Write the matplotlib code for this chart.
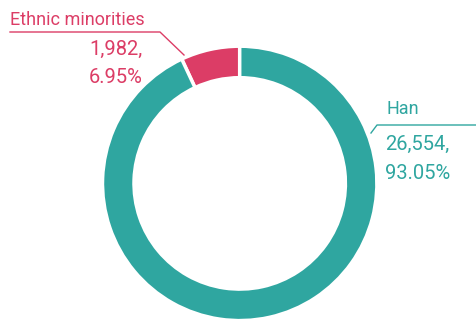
import matplotlib
matplotlib.use("Agg")
import matplotlib.pyplot as plt

categories = ["Ethnic minorities", "Han"]
values = [1982, 26554]
percents = ["6.95%", "93.05%"]
colors = ["#dc3d66", "#2fa6a0"]

W, H = 476, 322
fig = plt.figure(figsize=(W / 100, H / 100), dpi=100)
ax = fig.add_axes([0, 0, 1, 1])

cx, cy, R = 239.7, H - 183.4, 137.2
ax.pie(values, colors=colors, startangle=90, counterclock=True,
       center=(cx, cy), radius=R, frame=True,
       wedgeprops=dict(width=31.5, edgecolor="white", linewidth=2.5))
ax.set_xlim(0, W)
ax.set_ylim(0, H)
ax.set_aspect("equal")
ax.axis("off")

font = "Roboto"
# Ethnic minorities label
c0 = colors[0]
ax.plot([10, 160, 184], [H - 32, H - 32, H - 55], color=c0, lw=1)
ax.text(10, H - 25, categories[0], color=c0, fontsize=13, family=font, ha="left", va="baseline")
ax.text(143, H - 55, f"{values[0]:,},", color=c0, fontsize=14.5, family=font, ha="right", va="baseline")
ax.text(143, H - 83, percents[0], color=c0, fontsize=14.5, family=font, ha="right", va="baseline")

# Han label
c1 = colors[1]
ax.plot([371, 377, 476], [H - 133, H - 125, H - 125], color=c1, lw=1)
ax.text(386, H - 114, categories[1], color=c1, fontsize=13, family=font, ha="left", va="baseline")
ax.text(385, H - 150, f"{values[1]:,},", color=c1, fontsize=14.5, family=font, ha="left", va="baseline")
ax.text(385, H - 179, percents[1], color=c1, fontsize=14.5, family=font, ha="left", va="baseline")

fig.savefig("out.png", dpi=100)
